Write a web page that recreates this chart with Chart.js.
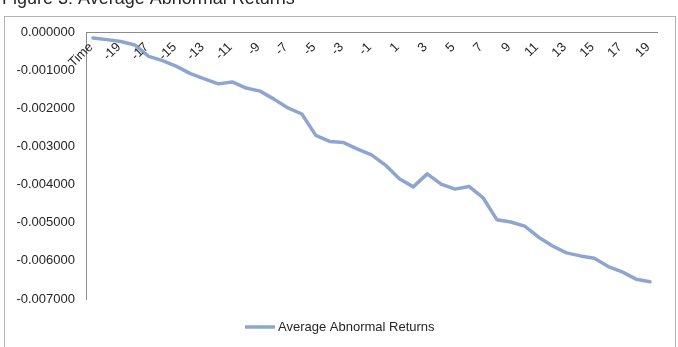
<!DOCTYPE html>
<html>
<head>
<meta charset="utf-8">
<title>Figure 3: Average Abnormal Returns</title>
<script src="https://cdn.jsdelivr.net/npm/chart.js@4.4.1/dist/chart.umd.min.js"></script>
<style>
  html, body { margin: 0; padding: 0; background: #fff; }
  #wrap { position: relative; width: 678px; height: 347px; overflow: hidden; }
</style>
</head>
<body>
<div id="wrap"><canvas id="line-chart" width="678" height="347"></canvas></div>
<script>
const titleText = "Figure 3: Average Abnormal Returns";
const seriesName = "Average Abnormal Returns";

// first row of the sheet is the "Time" header, then days -20 .. 19
const days = ["Time", "-20", "-19", "-18", "-17", "-16", "-15", "-14", "-13", "-12", "-11",
  "-10", "-9", "-8", "-7", "-6", "-5", "-4", "-3", "-2", "-1",
  "0", "1", "2", "3", "4", "5", "6", "7", "8", "9",
  "10", "11", "12", "13", "14", "15", "16", "17", "18", "19"];

const abnormalReturns = [-0.00016, -0.00020, -0.00025, -0.00034, -0.00064, -0.00075, -0.00090, -0.00109, -0.00123, -0.00136, -0.00131,
  -0.00147, -0.00155, -0.00176, -0.00199, -0.00215, -0.00271, -0.00287, -0.00290, -0.00307, -0.00322,
  -0.00349, -0.00385, -0.00406, -0.00372, -0.00399, -0.00412, -0.00405, -0.00434, -0.00492, -0.00498,
  -0.00509, -0.00538, -0.00561, -0.00579, -0.00587, -0.00593, -0.00615, -0.00629, -0.00648, -0.00655];

const yTicks = [0, -0.001, -0.002, -0.003, -0.004, -0.005, -0.006, -0.007];

const fontFamily = "'Liberation Sans', Arial, sans-serif";
const textColor = "#262626";
const axisColor = "#8c8c8c";

// title, outer box, the slanted day labels under the top axis and the legend
const frame = {
  id: "frame",
  beforeDraw(chart) {
    const ctx = chart.ctx;
    ctx.save();
    ctx.fillStyle = "#fff";
    ctx.fillRect(0, 0, chart.width, chart.height);
    ctx.strokeStyle = "#b3b3b3";
    ctx.lineWidth = 1;
    ctx.strokeRect(4.5, 16.5, 671, 340);
    ctx.fillStyle = textColor;
    ctx.font = "18px " + fontFamily;
    ctx.textBaseline = "alphabetic";
    ctx.fillText(titleText, 2, 3.5);
    ctx.restore();
  },
  afterDraw(chart) {
    const ctx = chart.ctx;
    const xs = chart.scales.x;
    ctx.save();
    ctx.font = "13px " + fontFamily;
    ctx.fillStyle = textColor;
    ctx.textAlign = "right";
    ctx.textBaseline = "middle";
    chart.data.labels.forEach((lab, i) => {
      if (i % 2) return;
      ctx.save();
      ctx.translate(xs.getPixelForValue(i) - 2, chart.chartArea.top + 13);
      ctx.rotate(-Math.PI / 4);
      ctx.fillText(lab, 0, 0);
      ctx.restore();
    });

    const ds = chart.data.datasets[0];
    const ly = 327;
    ctx.strokeStyle = ds.borderColor;
    ctx.lineWidth = ds.borderWidth;
    ctx.beginPath();
    ctx.moveTo(245, ly);
    ctx.lineTo(275, ly);
    ctx.stroke();
    ctx.textAlign = "left";
    ctx.fillText(ds.label, 278, ly);
    ctx.restore();
  }
};

new Chart(document.getElementById("line-chart"), {
  type: "line",
  data: {
    labels: days,
    datasets: [
      {
        label: seriesName,
        data: abnormalReturns,
        borderColor: "#8da6cf",
        borderWidth: 3.5,
        borderJoinStyle: "round",
        borderCapStyle: "round",
        pointRadius: 0,
        tension: 0,
        fill: false
      }
    ]
  },
  options: {
    responsive: false,
    animation: false,
    layout: { padding: { left: 0, right: 21, top: 32, bottom: 48 } },
    plugins: {
      legend: { display: false },
      tooltip: { enabled: false }
    },
    scales: {
      x: {
        position: "top",
        offset: true,
        grid: { display: false, drawTicks: false },
        border: { display: true, color: axisColor, width: 1 },
        ticks: { display: false },
        afterFit: s => { s.height = 0; }
      },
      y: {
        min: -0.007,
        max: 0,
        grid: { display: false, drawTicks: false },
        border: { display: true, color: axisColor, width: 1 },
        afterBuildTicks: s => { s.ticks = yTicks.map(v => ({ value: v })); },
        ticks: {
          padding: 11,
          color: textColor,
          font: { size: 13, family: fontFamily },
          callback: v => (Math.abs(v) < 1e-9 ? 0 : v).toFixed(6)
        },
        afterFit: s => { s.width = 86; }
      }
    }
  },
  plugins: [frame]
});
</script>
</body>
</html>
